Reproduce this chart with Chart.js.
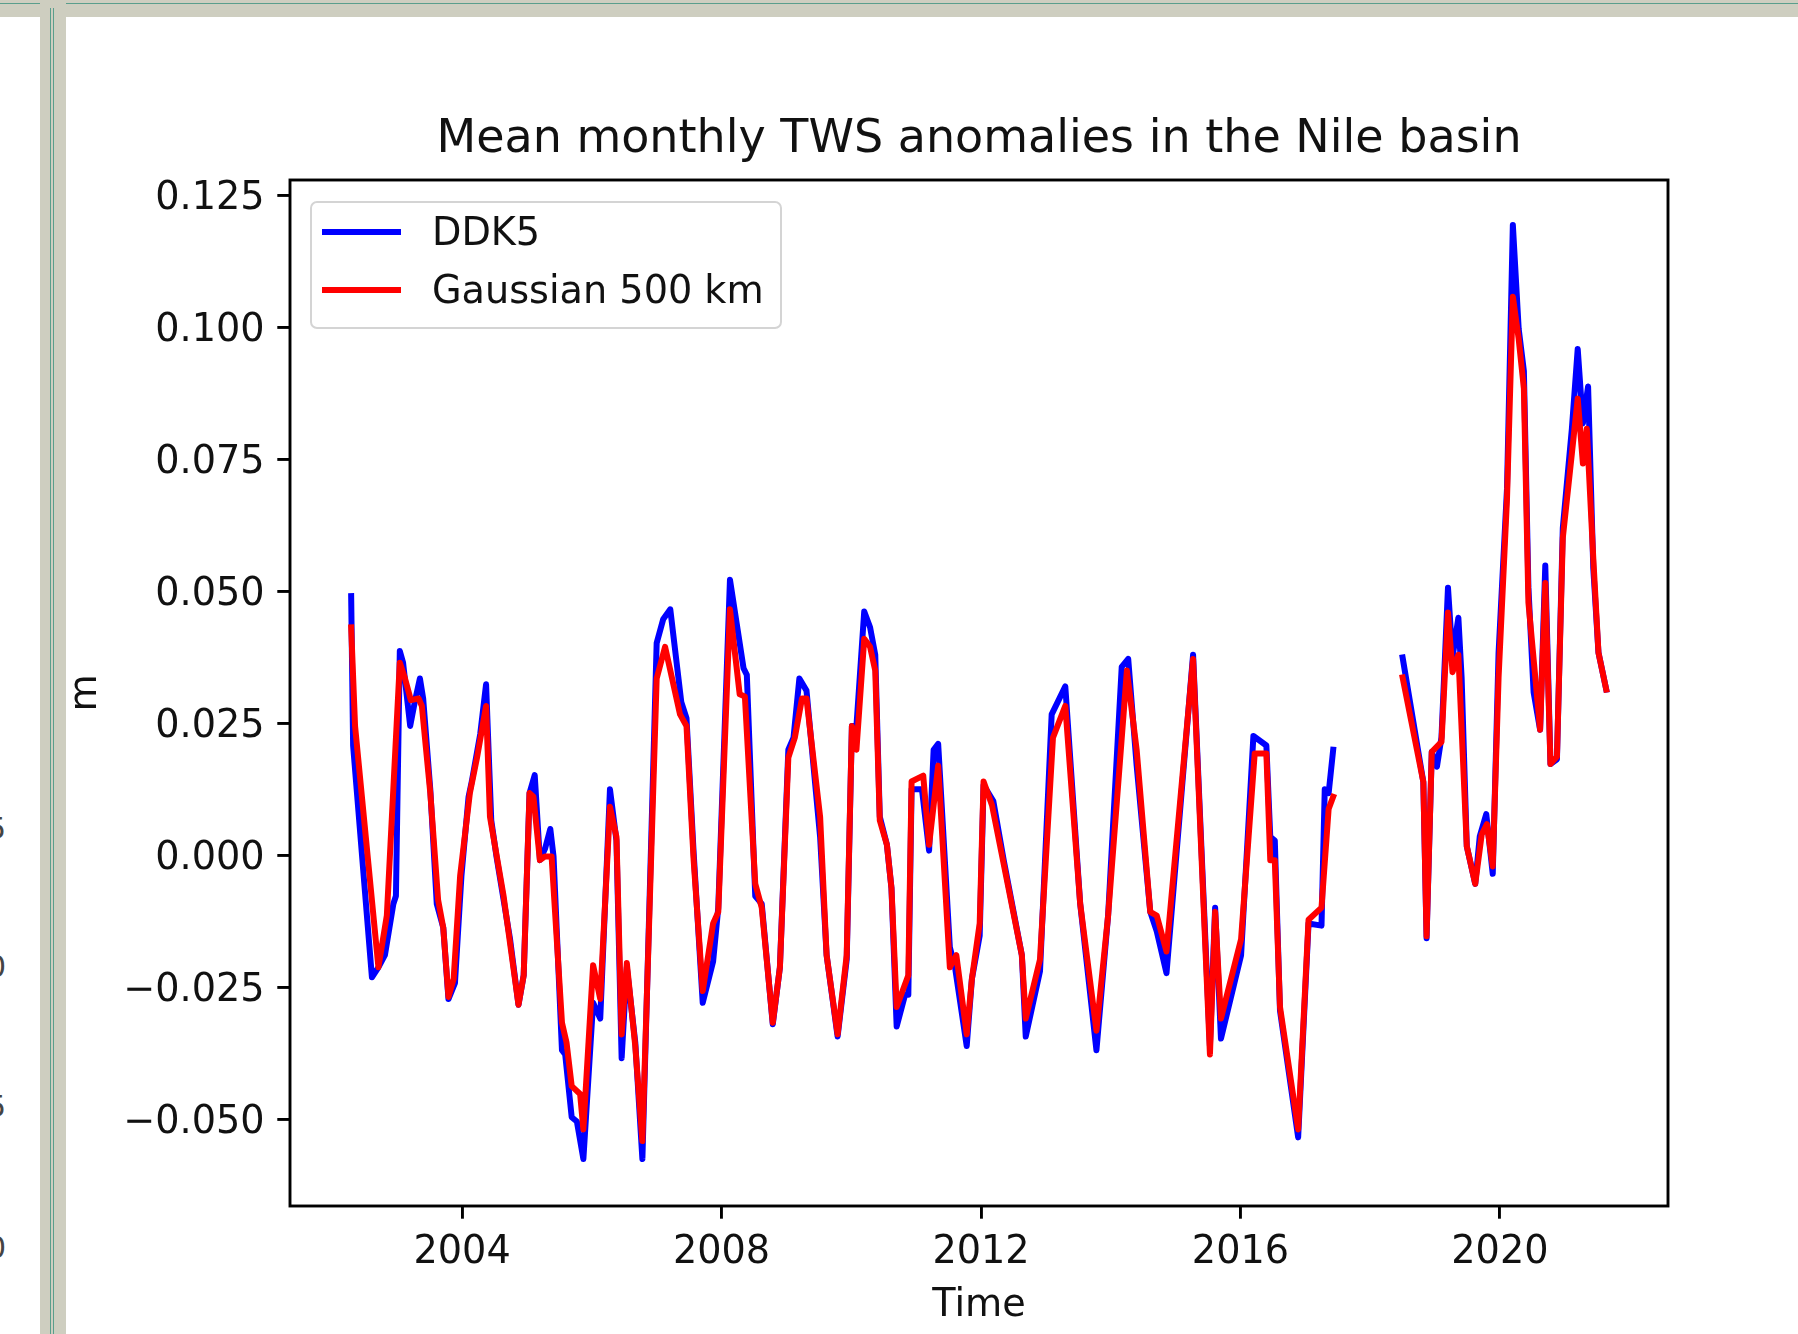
<!DOCTYPE html>
<html>
<head>
<meta charset="utf-8">
<script src="https://cdn.jsdelivr.net/npm/chart.js@4.4.1/dist/chart.umd.min.js"></script>
<style>
html,body{margin:0;padding:0;background:#fff;}
body{width:1798px;height:1334px;position:relative;overflow:hidden;font-family:"DejaVu Sans",sans-serif;}
#topband{position:absolute;left:0;top:0;width:1798px;height:17px;background:#cecec0;}
#topline{position:absolute;left:0;top:3px;width:1798px;height:1px;background:#5a9e8c;}
#vband{position:absolute;left:40px;top:0;width:26px;height:1334px;background:#cecec0;}
#vl1{position:absolute;left:50px;top:8px;width:1px;height:1326px;background:#5a9e8c;}
#vl2{position:absolute;left:53px;top:8px;width:1px;height:1326px;background:#5a9e8c;}
.frag{position:absolute;left:-13px;font-size:30px;color:#444;line-height:30px;font-family:"DejaVu Sans",sans-serif;}
#chart{position:absolute;left:0;top:0;}
#legend{position:absolute;left:310px;top:201px;width:468px;height:124px;border:2px solid #d4d4d4;border-radius:7px;background:rgba(255,255,255,0.8);}
.lg-item{position:absolute;left:0;height:40px;width:460px;}
.lg-line{position:absolute;left:10px;width:79px;height:6px;top:17px;}
.lg-text{position:absolute;left:120px;top:0;font-size:38.2px;line-height:40px;color:#111;white-space:nowrap;}
</style>
</head>
<body>
<div id="topband"></div>
<div id="topline"></div>
<div id="vband"></div>
<div id="vl1"></div>
<div id="vl2"></div>
<div class="frag" style="top:814px">5</div>
<div class="frag" style="top:952px">0</div>
<div class="frag" style="top:1092px">5</div>
<div class="frag" style="top:1233px">0</div>
<canvas id="chart" width="1798" height="1334"></canvas>
<div id="legend"></div>
<script>
const chartTitle = "Mean monthly TWS anomalies in the Nile basin";
const xAxisTitle = "Time";
const yAxisTitle = "m";
const seriesNames = ["DDK5", "Gaussian 500 km"];
const seriesColors = ["#0000ff", "#ff0000"];
const xTickValues = [2004, 2008, 2012, 2016, 2020];
const xTickLabels = ["2004", "2008", "2012", "2016", "2020"];
const yTickValues = [-0.05, -0.025, 0, 0.025, 0.05, 0.075, 0.1, 0.125];
const yTickLabels = ["\u22120.050", "\u22120.025", "0.000", "0.025", "0.050", "0.075", "0.100", "0.125"];

const ddk5Time = [
 2002.29,2002.32,2002.61,2002.71,2002.81,2002.94,2002.98,2003.04,2003.09,2003.20,
 2003.27,2003.35,2003.40,2003.51,2003.61,2003.71,2003.79,2003.89,2003.99,2004.10,
 2004.15,2004.28,2004.37,2004.45,2004.53,2004.74,2004.87,2004.95,2005.04,2005.12,
 2005.20,2005.28,2005.36,2005.41,2005.54,2005.59,2005.69,2005.77,2005.87,2006.02,
 2006.13,2006.28,2006.38,2006.46,2006.54,2006.67,2006.78,2007.00,2007.10,2007.21,
 2007.38,2007.46,2007.57,2007.71,2007.87,2007.95,2008.13,2008.34,2008.39,2008.52,
 2008.62,2008.79,2008.90,2009.03,2009.11,2009.20,2009.31,2009.52,2009.62,2009.79,
 2009.93,2010.01,2010.08,2010.20,2010.29,2010.37,2010.44,2010.55,2010.62,2010.70,
 2010.83,2010.88,2010.93,2011.09,2011.20,2011.27,2011.34,2011.52,2011.60,2011.78,
 2011.86,2011.98,2012.04,2012.19,2012.35,2012.63,2012.69,2012.91,2013.09,2013.30,
 2013.53,2013.78,2013.96,2014.17,2014.27,2014.40,2014.61,2014.71,2014.86,2015.27,
 2015.53,2015.61,2015.70,2016.01,2016.20,2016.40,2016.46,2016.53,2016.61,2016.89,
 2017.05,2017.25,2017.30,2017.36,2017.43,2017.95,
 2018.50,2018.82,2018.87,2018.95,2019.03,2019.10,2019.20,2019.27,2019.36,2019.41,
 2019.49,2019.62,2019.69,2019.79,2019.89,2019.98,2020.11,2020.20,2020.29,2020.37,
 2020.44,2020.52,2020.62,2020.70,2020.78,2020.88,2020.97,2021.11,2021.20,2021.28,
 2021.36,2021.44,2021.52,2021.64
];
const ddk5Values = [
 0.0492,0.0209,-0.0230,-0.0211,-0.0188,-0.0091,-0.0076,0.0388,0.0366,0.0246,
 0.0291,0.0336,0.0298,0.0126,-0.0091,-0.0136,-0.0271,-0.0241,-0.0038,0.0112,
 0.0141,0.0231,0.0325,0.0067,-0.0001,-0.0158,-0.0282,-0.0226,0.0119,0.0153,
 -0.0008,0.0014,0.0051,-0.0001,-0.0368,-0.0376,-0.0495,-0.0503,-0.0574,-0.0278,
 -0.0308,0.0126,0.0029,-0.0383,-0.0211,-0.0353,-0.0574,0.0403,0.0448,0.0467,
 0.0291,0.0261,0.0006,-0.0278,-0.0200,-0.0098,0.0523,0.0355,0.0343,-0.0076,
 -0.0091,-0.0319,-0.0211,0.0201,0.0224,0.0336,0.0313,0.0036,-0.0188,-0.0342,
 -0.0196,0.0246,0.0246,0.0463,0.0433,0.0381,0.0074,0.0021,-0.0061,-0.0323,
 -0.0263,-0.0263,0.0126,0.0126,0.0010,0.0201,0.0212,-0.0173,-0.0211,-0.0360,
 -0.0233,-0.0151,0.0134,0.0104,-0.0008,-0.0188,-0.0342,-0.0218,0.0268,0.0321,
 -0.0091,-0.0368,-0.0113,0.0358,0.0373,0.0171,-0.0106,-0.0143,-0.0222,0.0381,
 -0.0360,-0.0098,-0.0346,-0.0188,0.0227,0.0209,0.0036,0.0029,-0.0293,-0.0533,
 -0.0128,-0.0132,0.0126,0.0119,0.0201,null,
 0.0376,0.0140,-0.0156,0.0197,0.0169,0.0225,0.0508,0.0376,0.0451,0.0338,
 0.0018,-0.0053,0.0037,0.0079,-0.0034,0.0385,0.0696,0.1195,0.0998,0.0918,
 0.0508,0.0310,0.0239,0.0550,0.0174,0.0183,0.0621,0.0809,0.0960,0.0819,
 0.0889,0.0545,0.0385,0.0315
];

const gaussTime = [
 2002.29,2002.35,2002.71,2002.84,2003.04,2003.12,2003.21,2003.33,2003.38,2003.51,
 2003.63,2003.71,2003.79,2003.87,2003.97,2004.12,2004.23,2004.37,2004.43,2004.64,
 2004.87,2004.95,2005.04,2005.10,2005.20,2005.28,2005.38,2005.54,2005.61,2005.69,
 2005.82,2005.87,2006.02,2006.13,2006.28,2006.38,2006.46,2006.54,2006.67,2006.78,
 2007.00,2007.13,2007.36,2007.46,2007.57,2007.71,2007.87,2007.95,2008.13,2008.28,
 2008.36,2008.52,2008.62,2008.79,2008.90,2009.03,2009.13,2009.24,2009.31,2009.52,
 2009.62,2009.79,2009.93,2010.01,2010.08,2010.20,2010.29,2010.37,2010.44,2010.55,
 2010.62,2010.70,2010.88,2010.93,2011.11,2011.20,2011.34,2011.52,2011.62,2011.78,
 2011.86,2011.98,2012.04,2012.17,2012.63,2012.69,2012.91,2013.11,2013.30,2013.53,
 2013.78,2013.96,2014.25,2014.40,2014.61,2014.71,2014.86,2015.27,2015.53,2015.61,
 2015.70,2016.01,2016.22,2016.40,2016.46,2016.53,2016.61,2016.89,2017.05,2017.25,
 2017.36,2017.43,2017.95,
 2018.50,2018.82,2018.87,2018.95,2019.10,2019.20,2019.27,2019.36,2019.49,2019.62,
 2019.72,2019.80,2019.89,2019.98,2020.11,2020.20,2020.29,2020.37,2020.44,2020.62,
 2020.70,2020.78,2020.88,2020.97,2021.11,2021.20,2021.28,2021.34,2021.44,2021.52,
 2021.64
];
const gaussValues = [
 0.0433,0.0246,-0.0211,-0.0113,0.0366,0.0336,0.0295,0.0298,0.0284,0.0119,
 -0.0083,-0.0136,-0.0267,-0.0233,-0.0038,0.0119,0.0186,0.0284,0.0074,-0.0076,
 -0.0282,-0.0226,0.0119,0.0112,-0.0008,-0.0001,-0.0001,-0.0316,-0.0353,-0.0436,
 -0.0451,-0.0518,-0.0207,-0.0271,0.0093,0.0036,-0.0338,-0.0203,-0.0360,-0.0540,
 0.0336,0.0396,0.0268,0.0246,-0.0008,-0.0256,-0.0128,-0.0106,0.0467,0.0306,
 0.0302,-0.0053,-0.0098,-0.0316,-0.0211,0.0186,0.0224,0.0298,0.0298,0.0074,
 -0.0188,-0.0338,-0.0188,0.0246,0.0201,0.0411,0.0396,0.0351,0.0067,0.0021,
 -0.0061,-0.0286,-0.0226,0.0141,0.0152,0.0021,0.0171,-0.0211,-0.0188,-0.0338,
 -0.0233,-0.0128,0.0141,0.0096,-0.0188,-0.0308,-0.0196,0.0224,0.0284,-0.0091,
 -0.0331,-0.0113,0.0351,0.0201,-0.0106,-0.0113,-0.0181,0.0373,-0.0376,-0.0106,
 -0.0308,-0.0158,0.0194,0.0194,-0.0008,-0.0008,-0.0286,-0.0518,-0.0121,-0.0098,
 0.0089,0.0112,null,
 0.0338,0.0140,-0.0152,0.0197,0.0216,0.0461,0.0348,0.0381,0.0018,-0.0053,
 0.0041,0.0060,-0.0020,0.0338,0.0677,0.1059,0.0979,0.0885,0.0480,0.0239,
 0.0517,0.0174,0.0188,0.0602,0.0762,0.0866,0.0743,0.0809,0.0564,0.0385,
 0.0315
];

const toPoints = (xs, ys) => xs.map((x, i) => ({ x: x, y: ys[i] }));

const FONT = '"DejaVu Sans", sans-serif';
const TICK = 38.2;
const TITLE = 46;

const framePlugin = {
  id: 'frame',
  afterDatasetsDraw(chart) {
    const { ctx, chartArea: a } = chart;
    ctx.save();
    ctx.strokeStyle = '#000';
    ctx.lineWidth = 2.9;
    ctx.strokeRect(a.left, a.top, a.width, a.height);
    ctx.restore();
  }
};

const titlePlugin = {
  id: 'axesTitle',
  afterDraw(chart) {
    const { ctx, chartArea: a } = chart;
    ctx.save();
    ctx.fillStyle = '#111';
    ctx.font = TITLE + 'px ' + FONT;
    ctx.textAlign = 'center';
    ctx.textBaseline = 'middle';
    ctx.fillText(chartTitle, (a.left + a.right) / 2, a.top - 40);
    ctx.restore();
  }
};

const legendEl = document.getElementById('legend');
seriesNames.forEach((name, i) => {
  const item = document.createElement('div');
  item.className = 'lg-item';
  item.style.top = (i === 0 ? 9 : 67) + 'px';
  const ln = document.createElement('div');
  ln.className = 'lg-line';
  ln.style.background = seriesColors[i];
  const tx = document.createElement('div');
  tx.className = 'lg-text';
  tx.textContent = name;
  item.appendChild(ln);
  item.appendChild(tx);
  legendEl.appendChild(item);
});

new Chart(document.getElementById('chart'), {
  type: 'line',
  data: {
    datasets: [
      { label: seriesNames[0], data: toPoints(ddk5Time, ddk5Values), borderColor: seriesColors[0],
        borderWidth: 6, pointRadius: 0, tension: 0, spanGaps: false, fill: false, order: 2,
        borderJoinStyle: 'round', borderCapStyle: 'square' },
      { label: seriesNames[1], data: toPoints(gaussTime, gaussValues), borderColor: seriesColors[1],
        borderWidth: 6, pointRadius: 0, tension: 0, spanGaps: false, fill: false, order: 1,
        borderJoinStyle: 'round', borderCapStyle: 'square' }
    ]
  },
  options: {
    responsive: false,
    animation: false,
    devicePixelRatio: 1,
    layout: { padding: { left: 0, right: 130, top: 180, bottom: 0 } },
    plugins: {
      legend: { display: false },
      tooltip: { enabled: false },
      title: { display: false }
    },
    scales: {
      x: {
        type: 'linear', position: 'bottom', min: 2001.347, max: 2022.592,
        afterBuildTicks: (s) => { s.ticks = xTickValues.map(v => ({ value: v })); },
        afterFit: (s) => { s.height = 128; },
        ticks: {
          color: '#111', font: { family: FONT, size: TICK }, padding: 11.5, maxRotation: 0, autoSkip: false,
          callback: (v) => { const i = xTickValues.indexOf(v); return i >= 0 ? xTickLabels[i] : ''; }
        },
        grid: { display: true, drawOnChartArea: false, drawTicks: true, tickLength: 12.7, color: '#000', lineWidth: 2.9 },
        border: { display: false },
        title: { display: true, text: xAxisTitle, color: '#111', font: { family: FONT, size: TICK, lineHeight: 1.2 }, padding: { top: 0, bottom: 4.5 } }
      },
      y: {
        type: 'linear', position: 'left', min: -0.0663, max: 0.128,
        afterBuildTicks: (s) => { s.ticks = yTickValues.map(v => ({ value: v })); },
        afterFit: (s) => { s.width = 290; },
        ticks: {
          color: '#111', font: { family: FONT, size: TICK }, padding: 12.7, autoSkip: false, labelOffset: 3.5,
          callback: (v) => { const i = yTickValues.findIndex(t => Math.abs(t - v) < 1e-9); return i >= 0 ? yTickLabels[i] : ''; }
        },
        grid: { display: true, drawOnChartArea: false, drawTicks: true, tickLength: 12.7, color: '#000', lineWidth: 2.9 },
        border: { display: false },
        title: { display: true, text: yAxisTitle, color: '#111', font: { family: FONT, size: TICK, lineHeight: 1.2 }, padding: { top: 63, bottom: 0 } }
      }
    }
  },
  plugins: [framePlugin, titlePlugin]
});
</script>
</body>
</html>
